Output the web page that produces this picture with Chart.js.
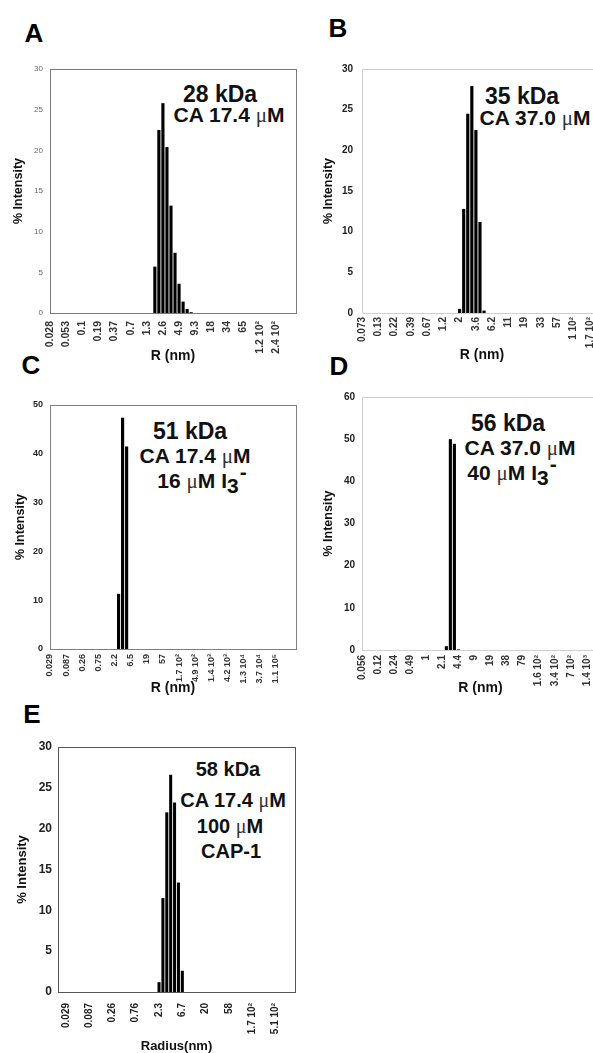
<!DOCTYPE html>
<html>
<head>
<meta charset="utf-8">
<script src="https://cdn.jsdelivr.net/npm/chart.js@4.4.1/dist/chart.umd.min.js"></script>
<style>
  html, body { margin: 0; padding: 0; background: #fff; }
  body { width: 593px; height: 1053px; overflow: hidden; position: relative;
         font-family: "Liberation Sans", Arial, sans-serif; }
  canvas { position: absolute; }
  .t { position: absolute; transform: translate(-50%, -50%); font-weight: bold;
       white-space: nowrap; color: #111; line-height: 1; }
  .letter { font-size: 26px; color: #000; }
  .kda { font-size: 23px; }
  .ca { font-size: 21px; }
  .e { font-size: 20px; }
  .mu { font-family: "Liberation Serif", "DejaVu Serif", serif; font-weight: normal; color: #333; }
  .sub { position: relative; top: 0.22em; }
  .sup { position: relative; top: -0.45em; margin-left: 1px; }
</style>
</head>
<body>

<div class="t letter" style="left:34px;top:33px">A</div>
<div class="t letter" style="left:338px;top:28px">B</div>
<div class="t letter" style="left:31px;top:365px">C</div>
<div class="t letter" style="left:339px;top:366px">D</div>
<div class="t letter" style="left:32px;top:714px">E</div>

<div class="t kda" style="left:220px;top:94px">28 kDa</div>
<div class="t ca" style="left:229px;top:115px">CA 17.4 <span class="mu">μ</span>M</div>

<div class="t kda" style="left:522px;top:96px">35 kDa</div>
<div class="t ca" style="left:535px;top:118px">CA 37.0 <span class="mu">μ</span>M</div>

<div class="t kda" style="left:190px;top:431px">51 kDa</div>
<div class="t ca" style="left:195px;top:456px">CA 17.4 <span class="mu">μ</span>M</div>
<div class="t ca" style="left:202px;top:481px">16 <span class="mu">μ</span>M I<span class="sub">3</span><span class="sup">-</span></div>

<div class="t kda" style="left:508px;top:423px">56 kDa</div>
<div class="t ca" style="left:520px;top:448px">CA 37.0 <span class="mu">μ</span>M</div>
<div class="t ca" style="left:512px;top:473px">40 <span class="mu">μ</span>M I<span class="sub">3</span><span class="sup">-</span></div>

<div class="t e" style="left:228px;top:769px">58 kDa</div>
<div class="t e" style="left:233px;top:800px">CA 17.4 <span class="mu">μ</span>M</div>
<div class="t e" style="left:230px;top:826px">100 <span class="mu">μ</span>M</div>
<div class="t e" style="left:231px;top:851px">CAP-1</div>

<script>
// tick labels (R in nm), one label every few size bins
const tickLabelsA = ['0.028', '0.053', '0.1', '0.19', '0.37', '0.7', '1.3', '2.6', '4.9', '9.3', '18', '34', '65', '1.2 10²', '2.4 10²'];
const tickLabelsB = ['0.073', '0.13', '0.22', '0.39', '0.67', '1.2', '2', '3.6', '6.2', '11', '19', '33', '57', '1 10²', '1.7 10²'];
const tickLabelsC = ['0.029', '0.087', '0.26', '0.75', '2.2', '6.5', '19', '57', '1.7 10²', '4.9 10²', '1.4 10³', '4.2 10³', '1.3 10⁴', '3.7 10⁴', '1.1 10⁵'];
const tickLabelsD = ['0.056', '0.12', '0.24', '0.49', '1', '2.1', '4.4', '9', '19', '38', '79', '1.6 10²', '3.4 10²', '7 10²', '1.4 10³'];
const tickLabelsE = ['0.029', '0.087', '0.26', '0.76', '2.3', '6.7', '20', '58', '1.7 10²', '5.1 10²'];

// number of size bins per histogram
const nBinsA = 62, nBinsB = 60, nBinsC = 62, nBinsD = 60, nBinsE = 62;

// % intensity of the non-empty bins, starting at bin barStart
const barStartA = 26;
const intensityA = [5.7, 22.5, 25.8, 20.4, 13.2, 7.4, 3.6, 1.4, 0.5, 0.1];
const barStartB = 24;
const intensityB = [0.5, 12.8, 24.5, 27.9, 22.5, 11.2, 0.3];
const barStartC = 17;
const intensityC = [11.3, 47.4, 41.5];
const barStartD = 21;
const intensityD = [0.9, 50.0, 48.9, 0.15];
const barStartE = 26;
const intensityE = [1.2, 11.5, 22.0, 26.6, 23.2, 13.4, 2.6];

const FONT = "'Liberation Sans', 'DejaVu Sans', Arial, sans-serif";

// draws the box round the plot area
const framePlugin = {
  id: 'frame',
  afterDatasetsDraw(chart, args, opts) {
    const { ctx, chartArea: a } = chart;
    ctx.save();
    ctx.strokeStyle = opts.color;
    ctx.lineWidth = 1;
    ctx.strokeRect(Math.round(a.left) + 0.5, Math.round(a.top) + 0.5,
      Math.round(a.right - a.left), Math.round(a.bottom - a.top));
    ctx.restore();
  }
};

const panels = [
  { labels: tickLabelsA, bins: nBinsA, step: 4, first: 0, barStart: barStartA, values: intensityA,
    yMax: 30, yStep: 5, xTitle: 'R (nm)',
    canvas: [0, 50, 300, 320], plot: [50, 69, 296, 313], yTitleX: 18.5, xTitleY: 356,
    frame: '#7a7a7a', yTick: { size: 8, weight: 'normal', color: '#666' }, xTick: { size: 10.5, weight: 'bold', color: '#333' },
    yPad: 7, xPad: 8, titleSize: 12.5, xTitleSize: 14 },
  { labels: tickLabelsB, bins: nBinsB, step: 4, first: 0, barStart: barStartB, values: intensityB,
    yMax: 30, yStep: 5, xTitle: 'R (nm)',
    canvas: [300, 50, 310, 320], plot: [362, 69, 602, 313], yTitleX: 328.5, xTitleY: 355,
    frame: '#cfcfcf', yTick: { size: 10, weight: 'bold', color: '#222' }, xTick: { size: 10, weight: 'bold', color: '#333' },
    yPad: 9, xPad: 4, titleSize: 12.5, xTitleSize: 14 },
  { labels: tickLabelsC, bins: nBinsC, step: 4, first: 0, barStart: barStartC, values: intensityC,
    yMax: 50, yStep: 10, xTitle: 'R (nm)',
    canvas: [0, 385, 300, 315], plot: [50, 405, 296, 649], yTitleX: 21, xTitleY: 688,
    frame: '#808080', yTick: { size: 9, weight: 'bold', color: '#222' }, xTick: { size: 9, weight: 'bold', color: '#333' },
    yPad: 7, xPad: 5, titleSize: 12.5, xTitleSize: 14 },
  { labels: tickLabelsD, bins: nBinsD, step: 4, first: 0, barStart: barStartD, values: intensityD,
    yMax: 60, yStep: 10, xTitle: 'R (nm)',
    canvas: [300, 380, 310, 320], plot: [362, 397, 599, 650], yTitleX: 328.5, xTitleY: 688,
    frame: '#d0d0d0', yTick: { size: 10, weight: 'bold', color: '#222' }, xTick: { size: 10, weight: 'bold', color: '#333' },
    yPad: 7, xPad: 5, titleSize: 12.5, xTitleSize: 14 },
  { labels: tickLabelsE, bins: nBinsE, step: 6, first: 2, barStart: barStartE, values: intensityE,
    yMax: 30, yStep: 5, xTitle: 'Radius(nm)',
    canvas: [0, 735, 300, 318], plot: [58, 747, 295, 992], yTitleX: 22, xTitleY: 1046,
    frame: '#555', yTick: { size: 12, weight: 'bold', color: '#222' }, xTick: { size: 10, weight: 'bold', color: '#222' },
    yPad: 6, xPad: 11, titleSize: 13, xTitleSize: 13 }
];

panels.forEach(p => {
  const [cx, cy, cw, ch] = p.canvas;
  const [L, T, R, B] = p.plot;
  const lhY = p.titleSize * 1.2;
  const lhX = p.xTitleSize * 1.2;
  const padLeft = p.yTitleX - lhY / 2 - cx;
  const yWidth = L - cx - padLeft;
  const padTop = T - cy;
  const padRight = cx + cw - R;
  const xBottom = p.xTitleY + lhX / 2;
  const xHeight = xBottom - B;
  const padBottom = cy + ch - xBottom;

  const canvas = document.createElement('canvas');
  canvas.width = cw;
  canvas.height = ch;
  canvas.style.left = cx + 'px';
  canvas.style.top = cy + 'px';
  document.body.appendChild(canvas);

  // category per size bin, only every step-th one gets a label
  const cats = [];
  for (let i = 0; i < p.bins; i++) {
    const k = (i - p.first) / p.step;
    cats.push(Number.isInteger(k) && k >= 0 && k < p.labels.length ? p.labels[k] : '');
  }
  const data = new Array(p.bins).fill(null);
  p.values.forEach((v, j) => { data[p.barStart + j] = v; });

  new Chart(canvas, {
    type: 'bar',
    data: {
      labels: cats,
      datasets: [{
        data: data,
        backgroundColor: '#000',
        borderWidth: 0,
        barPercentage: 0.78,
        categoryPercentage: 1
      }]
    },
    options: {
      responsive: false,
      animation: false,
      devicePixelRatio: 1,
      layout: { padding: { left: padLeft, top: padTop, right: padRight, bottom: padBottom } },
      plugins: {
        legend: { display: false },
        tooltip: { enabled: false },
        frame: { color: p.frame }
      },
      scales: {
        x: {
          offset: false,
          grid: { display: false, drawTicks: false },
          border: { display: false },
          ticks: {
            autoSkip: false, minRotation: 90, maxRotation: 90, padding: p.xPad,
            color: p.xTick.color,
            font: { family: FONT, size: p.xTick.size, weight: p.xTick.weight }
          },
          title: {
            display: true, text: p.xTitle, padding: 0, color: '#111',
            font: { family: FONT, size: p.xTitleSize, weight: 'bold' }
          },
          afterFit(s) { s.height = xHeight; s.paddingLeft = 0; s.paddingRight = 0; }
        },
        y: {
          min: 0, max: p.yMax,
          grid: { display: false, drawTicks: false },
          border: { display: false },
          ticks: {
            stepSize: p.yStep, padding: p.yPad, color: p.yTick.color,
            font: { family: FONT, size: p.yTick.size, weight: p.yTick.weight }
          },
          title: {
            display: true, text: '% Intensity', padding: 0, color: '#111',
            font: { family: FONT, size: p.titleSize, weight: 'bold' }
          },
          afterFit(s) { s.width = yWidth; s.paddingTop = 0; s.paddingBottom = 0; }
        }
      }
    },
    plugins: [framePlugin]
  });
});
</script>
</body>
</html>
